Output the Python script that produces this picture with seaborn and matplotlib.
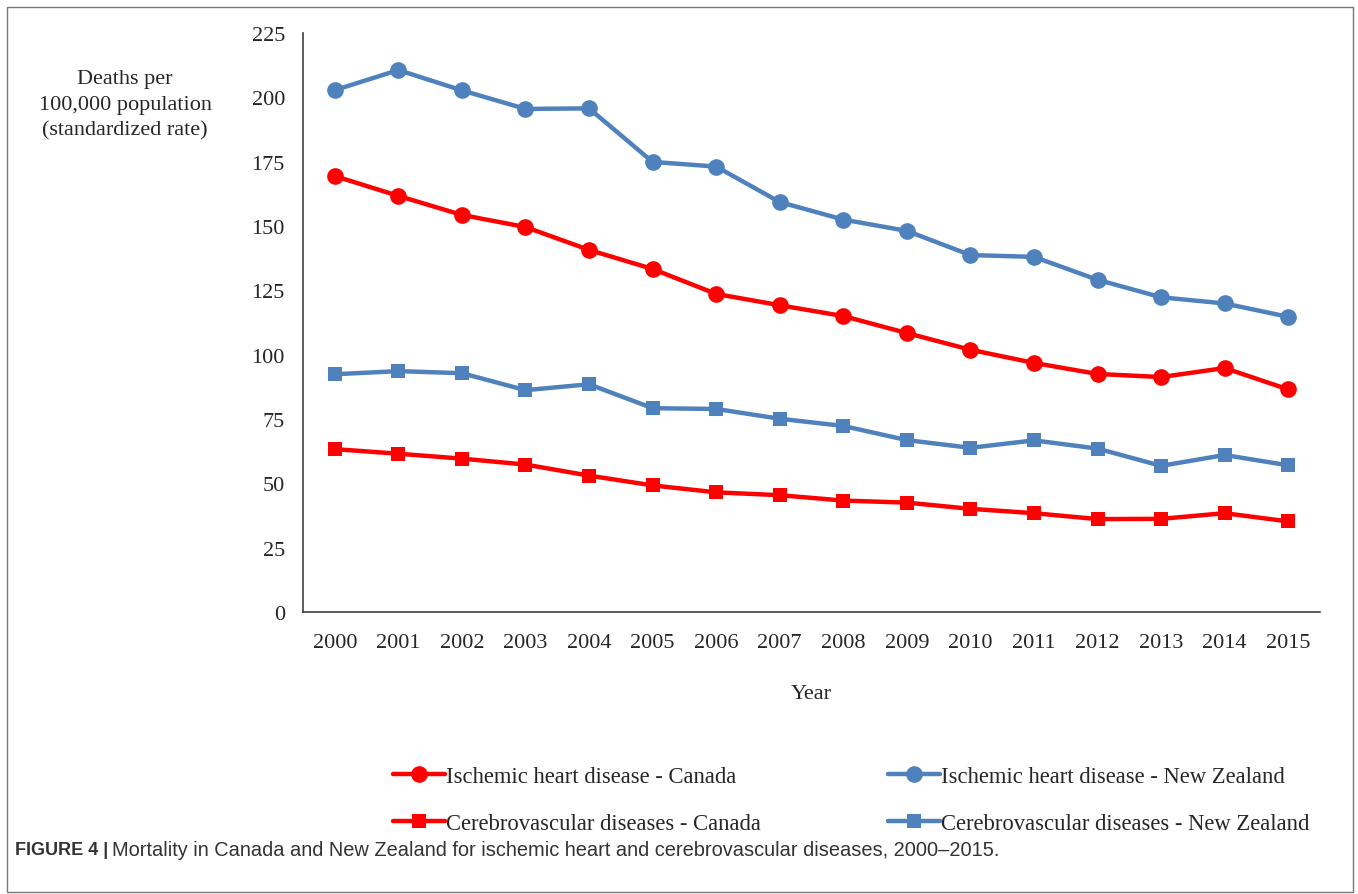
import numpy as np
import pandas as pd
import matplotlib
matplotlib.use('Agg')
import matplotlib.pyplot as plt
from matplotlib.patches import Rectangle
import seaborn as sns

# data
years = [str(y) for y in range(2000, 2016)]
ihd_canada = [169.4, 161.7, 154.3, 149.6, 140.7, 133.3, 123.6, 119.2,
              115.0, 108.4, 101.9, 96.8, 92.5, 91.3, 94.8, 86.5]
ihd_nz = [202.8, 210.6, 202.7, 195.5, 195.7, 174.9, 173.1, 159.3,
          152.5, 148.1, 138.7, 138.0, 129.1, 122.3, 119.9, 114.7]
cvd_canada = [63.3, 61.5, 59.6, 57.3, 53.0, 49.2, 46.5, 45.4,
              43.3, 42.5, 40.1, 38.4, 36.1, 36.2, 38.4, 35.2]
cvd_nz = [92.4, 93.6, 92.8, 86.2, 88.5, 79.2, 78.9, 75.1,
          72.3, 66.8, 63.8, 66.7, 63.5, 56.8, 61.0, 57.0]

series_names = ['Ischemic heart disease - Canada',
                'Cerebrovascular diseases - Canada',
                'Ischemic heart disease - New Zealand',
                'Cerebrovascular diseases - New Zealand']
series_vals = [ihd_canada, cvd_canada, ihd_nz, cvd_nz]

red = '#FF0000'
blue = '#4F81BD'
styles = [(red, 'o', 12), (red, 's', 10.5), (blue, 'o', 12), (blue, 's', 10.5)]

sns.set_style('white')
plt.rcParams['font.family'] = ['Liberation Serif', 'DejaVu Serif']

fig = plt.figure(figsize=(13.58, 8.95), dpi=100)
ax = fig.add_axes([303 / 1358, 1 - 613 / 895, 1017 / 1358, 579 / 895])

for name, vals, (col, mk, ms) in zip(series_names, series_vals, styles):
    df = pd.DataFrame({'Year': years, 'Rate': vals})
    sns.lineplot(data=df, x='Year', y='Rate', ax=ax, color=col, marker=mk,
                 markersize=ms, markeredgewidth=0, linewidth=3.2, label=name)

ax.set_xlim(-0.5, len(years) - 0.5)
ax.set_ylim(0, 225)
ax.set_yticks(np.arange(0, 226, 25))
# category axis: tick marks between categories, labels at centres
ax.set_xticks(np.arange(-0.5, len(years), 1))
ax.set_xticklabels([])
ax.set_xticks(np.arange(len(years)), minor=True)
ax.set_xticklabels(years, minor=True)
ax.tick_params(axis='x', which='major', direction='out', length=7, width=1, color='#404040')
ax.tick_params(axis='x', which='minor', length=0, pad=15, labelsize=16)
ax.tick_params(axis='y', direction='out', length=7, width=1, color='#404040',
               labelsize=16, pad=6)

for s in ['top', 'right']:
    ax.spines[s].set_visible(False)
for s in ['left', 'bottom']:
    ax.spines[s].set_color('#404040')
    ax.spines[s].set_linewidth(1.2)

ax.set_xlabel('Year', fontsize=16, labelpad=23)
ax.set_ylabel('Deaths per\n100,000 population\n(standardized rate)', fontsize=16,
              rotation=0, ha='center', va='center', linespacing=1.45)
ax.yaxis.set_label_coords(-0.175, 0.877)

handles, labels = ax.get_legend_handles_labels()
ax.get_legend().remove()
fig.legend(handles, labels, ncol=2, frameon=False, fontsize=16.3,
           loc='center', bbox_to_anchor=(851 / 1358, 1 - 801 / 895),
           handlelength=2.3, handletextpad=0.05, columnspacing=5.6,
           labelspacing=1.15)

# caption
cap_y = 1 - 851 / 895
bold = fig.text(15 / 1358, cap_y, 'FIGURE 4 |', family='Liberation Sans',
                fontsize=13, fontweight='bold', color='#333333', va='center')
fig.canvas.draw()
bb = bold.get_window_extent(renderer=fig.canvas.get_renderer())
fig.text(bb.x1 / fig.bbox.width + 4 / 1358, cap_y,
         'Mortality in Canada and New Zealand for ischemic heart and cerebrovascular diseases, 2000\u20132015.',
         family='Liberation Sans', fontsize=14.4, color='#333333', va='center')

# outer frame
fig.patches.append(Rectangle((7 / 1358, 2 / 895), 1346 / 1358, 885 / 895,
                             transform=fig.transFigure, fill=False,
                             edgecolor='#777777', linewidth=1))

fig.savefig('out.png', dpi=100)
